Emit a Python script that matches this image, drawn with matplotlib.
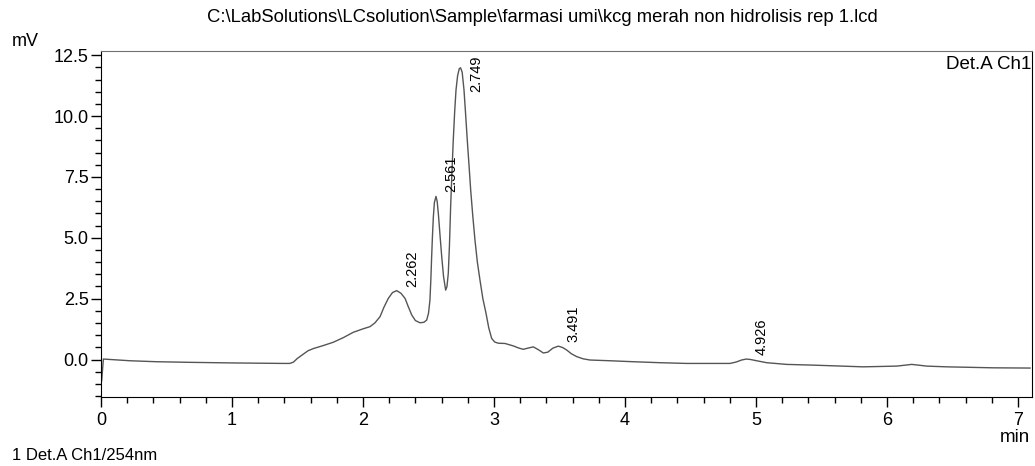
import matplotlib
matplotlib.use('Agg')
import matplotlib.pyplot as plt
from matplotlib.ticker import MultipleLocator, FormatStrFormatter

plt.rcParams['font.family'] = ['Liberation Sans', 'DejaVu Sans']

# chromatogram trace (min, mV)
time_min = [0.000, 0.005, 0.018, 0.221, 0.425, 0.679, 1.010, 1.392, 1.440, 1.468,
            1.500, 1.544, 1.580, 1.621, 1.700, 1.773, 1.850, 1.926, 2.000, 2.053,
            2.090, 2.130, 2.160, 2.193, 2.225, 2.257, 2.290, 2.321, 2.345, 2.372,
            2.400, 2.435, 2.465, 2.486, 2.500, 2.511, 2.518, 2.524, 2.530, 2.537,
            2.545, 2.557, 2.566, 2.575, 2.588, 2.601, 2.615, 2.631, 2.641, 2.651,
            2.660, 2.669, 2.679, 2.689, 2.700, 2.710, 2.722, 2.735, 2.745, 2.757,
            2.771, 2.783, 2.796, 2.809, 2.822, 2.838, 2.855, 2.873, 2.893, 2.915,
            2.939, 2.960, 2.982, 3.005, 3.033, 3.084, 3.147, 3.190, 3.224, 3.260,
            3.300, 3.340, 3.376, 3.410, 3.450, 3.491, 3.525, 3.555, 3.590, 3.631,
            3.680, 3.733, 3.885, 4.063, 4.267, 4.471, 4.802, 4.850, 4.890, 4.926,
            4.960, 5.005, 5.082, 5.234, 5.437, 5.819, 6.074, 6.140, 6.189, 6.240,
            6.303, 6.456, 6.811, 7.092]
signal_mv = [0.00, -0.88, 0.02, -0.05, -0.09, -0.115, -0.14, -0.16, -0.16, -0.11,
             0.05, 0.22, 0.36, 0.45, 0.58, 0.71, 0.90, 1.12, 1.26, 1.35,
             1.50, 1.76, 2.15, 2.51, 2.75, 2.83, 2.72, 2.51, 2.18, 1.83,
             1.60, 1.51, 1.53, 1.62, 1.90, 2.44, 3.30, 4.22, 5.05, 5.86,
             6.45, 6.70, 6.50, 6.00, 5.10, 4.22, 3.40, 2.85, 3.00, 3.54,
             4.70, 6.28, 7.70, 9.01, 10.20, 11.07, 11.65, 11.95, 11.98, 11.80,
             11.07, 10.10, 9.01, 8.00, 6.96, 5.90, 4.89, 4.00, 3.26, 2.50,
             1.90, 1.30, 0.87, 0.72, 0.67, 0.66, 0.56, 0.47, 0.42, 0.47,
             0.52, 0.40, 0.27, 0.30, 0.47, 0.55, 0.49, 0.39, 0.24, 0.12,
             0.03, -0.02, -0.05, -0.09, -0.13, -0.16, -0.16, -0.10, -0.02, 0.02,
             0.00, -0.05, -0.13, -0.20, -0.23, -0.30, -0.27, -0.23, -0.20, -0.23,
             -0.27, -0.30, -0.34, -0.35]

peak_rt = [2.262, 2.561, 2.749, 3.491, 4.926]
peak_height = [2.83, 6.70, 11.98, 0.55, 0.02]
peak_text = ['2.262', '2.561', '2.749', '3.491', '4.926']

fig = plt.figure(figsize=(10.35, 4.66), dpi=100)
ax = fig.add_axes([0.0976, 0.148, 0.8995, 0.743])

ax.plot(time_min, signal_mv, color='#555555', lw=1.0)

ax.set_xlim(0, 7.107)
ax.set_ylim(-1.54, 12.68)
ax.xaxis.set_major_locator(MultipleLocator(1))
ax.xaxis.set_minor_locator(MultipleLocator(0.2))
ax.yaxis.set_major_locator(MultipleLocator(2.5))
ax.yaxis.set_minor_locator(MultipleLocator(0.5))
ax.yaxis.set_major_formatter(FormatStrFormatter('%.1f'))
ax.tick_params(which='major', length=7, width=1, labelsize=13, pad=2)
ax.tick_params(which='minor', length=4, width=1)
ax.tick_params(axis='x', which='major', pad=4)

for side in ['left', 'bottom', 'right']:
    ax.spines[side].set_color('black')
ax.spines['top'].set_color('#707070')

# peak retention times, rotated like the instrument printout
for rt, h, txt in zip(peak_rt, peak_height, peak_text):
    dy = 4 if h < 11 else -24
    ax.annotate(txt, (rt, h), xytext=(8, dy), textcoords='offset pixels',
                rotation=90, ha='left', va='bottom', fontsize=10.5)

ax.text(0.999, 0.985, 'Det.A Ch1', transform=ax.transAxes, ha='right', va='top', fontsize=13.5)

fig.text(542 / 1035, 1 - 18 / 466,
         'C:\\LabSolutions\\LCsolution\\Sample\\farmasi umi\\kcg merah non hidrolisis rep 1.lcd',
         ha='center', va='center', fontsize=13.3)
fig.text(12 / 1035, 1 - 42 / 466, 'mV', ha='left', va='center', fontsize=13)
fig.text(1030 / 1035, 1 - 437 / 466, 'min', ha='right', va='center', fontsize=13.5)
fig.text(12 / 1035, 1 - 455 / 466, '1 Det.A Ch1/254nm', ha='left', va='center', fontsize=12)

fig.savefig('out.png', dpi=100)
